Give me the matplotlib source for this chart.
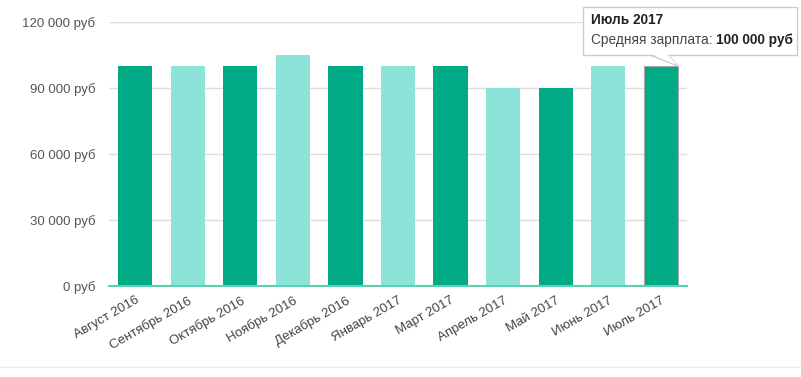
import matplotlib
matplotlib.use("Agg")
import matplotlib.pyplot as plt
from matplotlib.patches import FancyBboxPatch

plt.rcParams["font.family"] = ["Liberation Sans", "DejaVu Sans"]

# monthly average salary, rubles
months = ["Август 2016", "Сентябрь 2016", "Октябрь 2016", "Ноябрь 2016", "Декабрь 2016",
          "Январь 2017", "Март 2017", "Апрель 2017", "Май 2017", "Июнь 2017", "Июль 2017"]
salary = [100000, 100000, 100000, 105000, 100000, 100000, 100000, 90000, 90000, 100000, 100000]
y_ticks = [0, 30000, 60000, 90000, 120000]

DARK, LIGHT = "#00aa85", "#8ce3d8"
colors = [DARK if i % 2 == 0 else LIGHT for i in range(len(months))]


def rub(v):
    return f"{v:,.0f}".replace(",", " ") + " руб"


fig = plt.figure(figsize=(8.01, 3.77), dpi=100)
ax = fig.add_axes([109 / 801, 1 - 286 / 377, 578 / 801, 264 / 377])

x = range(len(months))
bars = ax.bar(x, salary, width=0.65, color=colors, zorder=2)
bars[-1].set_edgecolor("#a8a8a8")
bars[-1].set_linewidth(0.8)

ax.set_xlim(-0.5, len(months) - 0.5)
ax.set_ylim(0, 120000)
ax.set_yticks(y_ticks)
ax.set_yticklabels([rub(v) for v in y_ticks], fontsize=9.5, color="#555555")
ax.set_xticks(list(x))
ax.set_xticklabels(months, rotation=30, ha="right", rotation_mode="anchor",
                   fontsize=9.5, color="#444444")
ax.tick_params(axis="both", length=0)
ax.tick_params(axis="y", pad=10)
ax.tick_params(axis="x", pad=6)
ax.grid(axis="y", color="#dddddd", linewidth=1, zorder=0)
for s in ["top", "right", "left"]:
    ax.spines[s].set_visible(False)
ax.spines["bottom"].set_color("#5ccfb5")
ax.spines["bottom"].set_linewidth(1.5)
ax.spines["bottom"].set_zorder(3)

# tooltip for the last bar
bx, by = 583 / 801, 1 - 55 / 377
bw, bh = 214 / 801, 48 / 377
tip = FancyBboxPatch((bx, by), bw, bh, boxstyle="square,pad=0", transform=fig.transFigure,
                     facecolor="white", edgecolor="#cccccc", linewidth=1, zorder=5)
fig.patches.append(tip)
fig.lines.append(plt.Line2D([650 / 801, 678 / 801, 668 / 801],
                            [by, 1 - 66 / 377, by], transform=fig.transFigure,
                            color="#cccccc", linewidth=1, zorder=6))
fig.patches.append(plt.Polygon([[651 / 801, by + 0.003], [667 / 801, by + 0.003],
                                [677 / 801, 1 - 65 / 377]], closed=True,
                               transform=fig.transFigure, facecolor="white",
                               edgecolor="none", zorder=6))
fig.text(591 / 801, 1 - 20 / 377, months[-1], fontsize=9.8, fontweight="bold",
         color="#222222", va="center", zorder=10)
lbl = fig.text(591 / 801, 1 - 40 / 377, "Средняя зарплата: ", fontsize=9.8,
               color="#444444", va="center", zorder=10)
fig.canvas.draw()
ext = lbl.get_window_extent().transformed(fig.transFigure.inverted())
fig.text(ext.x1, 1 - 40 / 377, rub(salary[-1]), fontsize=9.8, fontweight="bold",
         color="#222222", va="center", zorder=10)

# faint separator at the bottom
fig.lines.append(plt.Line2D([0, 1], [1 - 367 / 377] * 2, transform=fig.transFigure,
                            color="#eeeeee", linewidth=1))

fig.savefig("out.png", dpi=100)
